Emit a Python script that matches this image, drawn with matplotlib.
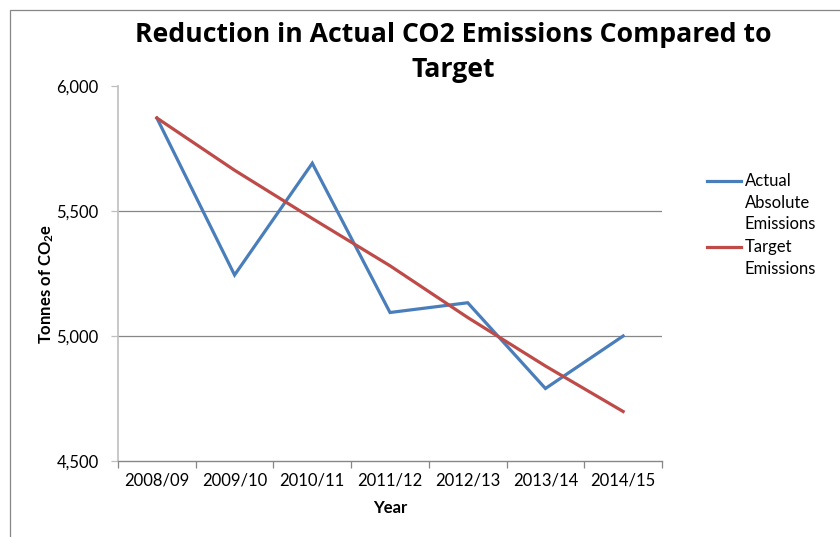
import numpy as np
import matplotlib
matplotlib.use("Agg")
import matplotlib.pyplot as plt
from matplotlib.lines import Line2D
from matplotlib.patches import Rectangle
from matplotlib.ticker import FuncFormatter, FixedLocator

years = ["2008/09", "2009/10", "2010/11", "2011/12", "2012/13", "2013/14", "2014/15"]
actual = [5872, 5244, 5691, 5094, 5133, 4790, 5000]
target = [5872, 5663, 5470, 5281, 5074, 4880, 4698]

plt.rcParams['font.family'] = ['Lato', 'DejaVu Sans']
plt.rcParams['mathtext.fontset'] = 'custom'
plt.rcParams['mathtext.rm'] = 'Lato:bold'
plt.rcParams['mathtext.bf'] = 'Lato:bold'
plt.rcParams['mathtext.default'] = 'bf'

W, H = 840, 537
fig = plt.figure(figsize=(W / 100, H / 100), dpi=100)
ax = fig.add_axes([118 / W, 1 - 461 / H, (662 - 118) / W, (461 - 86) / H])

blue = '#4a7ebb'
red = '#be4b48'
x = np.arange(len(years))
ax.plot(x, actual, color=blue, lw=2.3, solid_joinstyle='miter')
ax.plot(x, target, color=red, lw=2.3)

ax.set_xlim(-0.5, len(years) - 0.5)
ax.set_ylim(4500, 6000)
for g in [5000, 5500]:
    ax.axhline(g, color='#878787', lw=0.9, zorder=0)

ax.yaxis.set_major_locator(FixedLocator([4500, 5000, 5500, 6000]))
ax.yaxis.set_major_formatter(FuncFormatter(lambda v, p: f"{int(v):,}"))
ax.xaxis.set_major_locator(FixedLocator(np.arange(-0.5, len(years), 1.0)))
ax.xaxis.set_major_formatter(FuncFormatter(lambda v, p: ""))
ax.xaxis.set_minor_locator(FixedLocator(x))
ax.set_xticklabels(years, minor=True)
ax.tick_params(axis='x', which='minor', length=0, labelsize=12, pad=8)
ax.tick_params(axis='x', which='major', length=5, color='#878787', width=0.9)
ax.tick_params(axis='y', length=5, color='#bfbfbf', width=0.9, labelsize=12, pad=9)

for s in ['top', 'right']:
    ax.spines[s].set_visible(False)
ax.spines['left'].set_color('#bfbfbf')
ax.spines['bottom'].set_color('#878787')
ax.spines['left'].set_linewidth(1.2)
ax.spines['bottom'].set_linewidth(1.0)

title_font = dict(family=['Open Sans', 'DejaVu Sans'], fontsize=19.2, fontweight='bold')
fig.text(453 / W, 1 - 35 / H, "Reduction in Actual CO2 Emissions Compared to",
         ha='center', va='center', **title_font)
fig.text(453 / W, 1 - 70 / H, "Target", ha='center', va='center', **title_font)
fig.text(47 / W, 1 - 284 / H, "Tonnes of CO$_2$e", rotation=90, ha='center',
         va='center', fontsize=12, fontweight='bold')
fig.text(390 / W, 1 - 508 / H, "Year", ha='center', va='center',
         fontsize=12, fontweight='bold')

# legend
legend_rows = [(blue, ["Actual", "Absolute", "Emissions"], 181),
               (red, ["Target", "Emissions"], 247)]
for col, lines, y0 in legend_rows:
    fig.add_artist(Line2D([707 / W, 741 / W], [1 - y0 / H, 1 - y0 / H],
                          color=col, lw=2.3, transform=fig.transFigure))
    for i, t in enumerate(lines):
        fig.text(745 / W, 1 - (y0 + i * 21.5) / H, t, ha='left', va='center',
                 fontsize=12)

# chart border
fig.add_artist(Rectangle((9.5 / W, -0.1), 1.2, 1 - 9.5 / H + 0.1, fill=False,
                         edgecolor='#878787', lw=0.9, transform=fig.transFigure))

fig.savefig("out.png", dpi=100)
